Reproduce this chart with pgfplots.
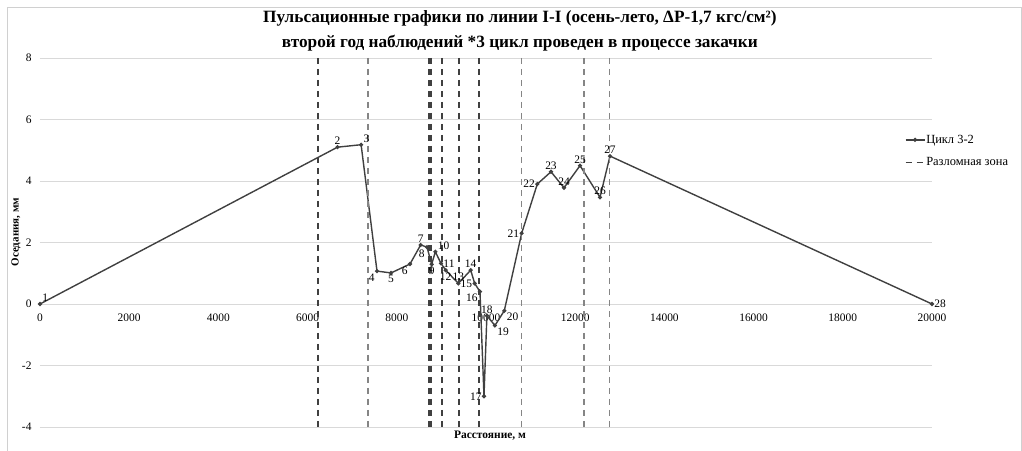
\documentclass[border=0pt]{standalone}
\usepackage{fontspec}
\setmainfont{Liberation Serif}
\usepackage{pgfplots}
\usepackage{pgfplotstable}
\pgfplotsset{compat=1.18}

\definecolor{serie}{HTML}{404040}
\definecolor{gridc}{HTML}{D9D9D9}
\definecolor{faultd}{HTML}{404040}
\definecolor{faultl}{HTML}{858585}
\definecolor{frame}{HTML}{D0D0D0}

% Profile along line I-I: distance (m), subsidence (mm), point number,
% label side (1 above, 2 below, 3 above right, 4 below left, 5 left, 6 right, 7 below right)
\pgfplotstableread{
x      y      lbl  grp
0      0.00   1    3
6670   5.10   2    1
7200   5.18   3    3
7556   1.07   4    4
7870   1.01   5    2
8296   1.30   6    4
8535   1.92   7    1
8677   1.85   8    4
8782   1.29   9    2
8864   1.70   10   3
8991   1.32   11   6
9096   1.10   12   2
9380   0.67   13   1
9657   1.10   14   1
9746   0.67   15   5
9865   0.40   16   4
9955  -3.00   17   5
10020 -0.38   18   1
10200 -0.70   19   7
10410 -0.22   20   7
10800  2.30   21   5
11150  3.90   22   5
11457  4.30   23   1
11749  3.78   24   1
12108  4.50   25   1
12556  3.47   26   1
12780  4.81   27   1
20000  0.00   28   6
}\profile

% point numbers placed around the markers, one side per group
\pgfplotsset{
  ptlabels/.style 2 args={draw=none, mark=none, forget plot,
    point meta=explicit symbolic, nodes near coords,
    restrict expr to domain={\thisrow{grp}}{#1:#1},
    every node near coord/.append style={anchor=#2, inner sep=2.3pt,
      font=\fontsize{11.5}{13}\selectfont, text=black}},
}

\begin{document}
\begin{tikzpicture}
\useasboundingbox (-40bp,-24bp) rectangle (982bp,427bp);
\draw[frame, line width=0.8bp] (-33bp,-40bp) -- (-33bp,420bp) -- (981bp,420bp) -- (981bp,-40bp);
\begin{axis}[
  scale only axis,
  width=892bp, height=369bp,
  xmin=0, xmax=20000,
  ymin=-4, ymax=8,
  xtick={0,2000,...,20000},
  ytick={-4,-2,...,8},
  scaled x ticks=false,
  ymajorgrids,
  grid style={gridc, line width=0.8bp},
  axis line style={draw=none},
  tick style={draw=none},
  /pgf/number format/.cd, 1000 sep={}, assume math mode=true,
  /pgfplots/.cd,
  tick label style={font=\fontsize{11.5}{13}\selectfont},
  xticklabel style={yshift=117bp},
  yticklabel style={xshift=-5bp},
  title={Пульсационные графики по линии I-I (осень-лето, ΔP-1,7 кгс/см²)\\второй год наблюдений *3 цикл проведен в процессе закачки},
  title style={at={(axis description cs:0.538,1)}, anchor=south, yshift=1bp,
    align=center, inner sep=0pt, font=\bfseries\fontsize{17.3}{25}\selectfont},
  xlabel={Расстояние, м},
  xlabel style={at={(axis description cs:0.5045,0)}, anchor=center, yshift=-9bp,
    font=\bfseries\fontsize{11.5}{12}\selectfont},
  ylabel={Оседания, мм},
  ylabel style={at={(axis description cs:-0.027,0.528)}, anchor=center,
    font=\bfseries\fontsize{11}{12}\selectfont},
  legend style={at={(0.966,0.80)}, anchor=north west, draw=none, fill=none,
    font=\fontsize{12.5}{14}\selectfont, row sep=11bp,
    nodes={inner sep=1pt}},
  legend cell align=left,
  legend image code/.code={\draw[#1] (0bp,0bp) -- (19bp,0bp);},
]
\addplot[serie, line width=1.4bp, mark=*, mark size=1.3bp,
  legend image code/.code={\draw[serie, line width=1.4bp] (0bp,0bp) -- (19bp,0bp);
    \fill[serie] (9.5bp,0bp) circle (1.3bp);}]
  table[x=x, y=y] {\profile};
\addlegendentry{Цикл 3-2}

% fault zones
\addplot[faultd, line width=1.4bp, dash pattern=on 6bp off 5bp] coordinates {(6226,8) (6226,-4)};
\addlegendentry{Разломная зона}
\addplot[faultd, line width=2.3bp, dash pattern=on 6bp off 5bp, forget plot] coordinates {(6226,8) (6226,-4)};
\addplot[faultl, line width=1.6bp, dash pattern=on 6bp off 5bp, forget plot] coordinates {(7348,8) (7348,-4)};
\addplot[faultd, line width=3.8bp, dash pattern=on 6bp off 5bp, forget plot] coordinates {(8744,8) (8744,-4)};
\addplot[faultd, line width=1.9bp, dash pattern=on 6bp off 5bp, forget plot] coordinates {(9013,8) (9013,-4)};
\addplot[faultd, line width=1.9bp, dash pattern=on 6bp off 5bp, forget plot] coordinates {(9401,8) (9401,-4)};
\addplot[faultd, line width=1.9bp, dash pattern=on 6bp off 5bp, forget plot] coordinates {(9843,8) (9843,-4)};
\addplot[faultl, line width=1.6bp, dash pattern=on 6bp off 5bp, forget plot] coordinates {(10800,8) (10800,-4)};
\addplot[faultl, line width=1.6bp, dash pattern=on 6bp off 5bp, forget plot] coordinates {(12197,8) (12197,-4)};
\addplot[faultl, line width=1.6bp, dash pattern=on 6bp off 5bp, forget plot] coordinates {(12765,8) (12765,-4)};

% point numbers
\addplot[ptlabels={1}{south}]      table[x=x, y=y, meta=lbl] {\profile};
\addplot[ptlabels={2}{north}]      table[x=x, y=y, meta=lbl] {\profile};
\addplot[ptlabels={3}{south west}] table[x=x, y=y, meta=lbl] {\profile};
\addplot[ptlabels={4}{north east}] table[x=x, y=y, meta=lbl] {\profile};
\addplot[ptlabels={5}{east}]       table[x=x, y=y, meta=lbl] {\profile};
\addplot[ptlabels={6}{west}]       table[x=x, y=y, meta=lbl] {\profile};
\addplot[ptlabels={7}{north west}] table[x=x, y=y, meta=lbl] {\profile};
\end{axis}
\end{tikzpicture}
\end{document}
